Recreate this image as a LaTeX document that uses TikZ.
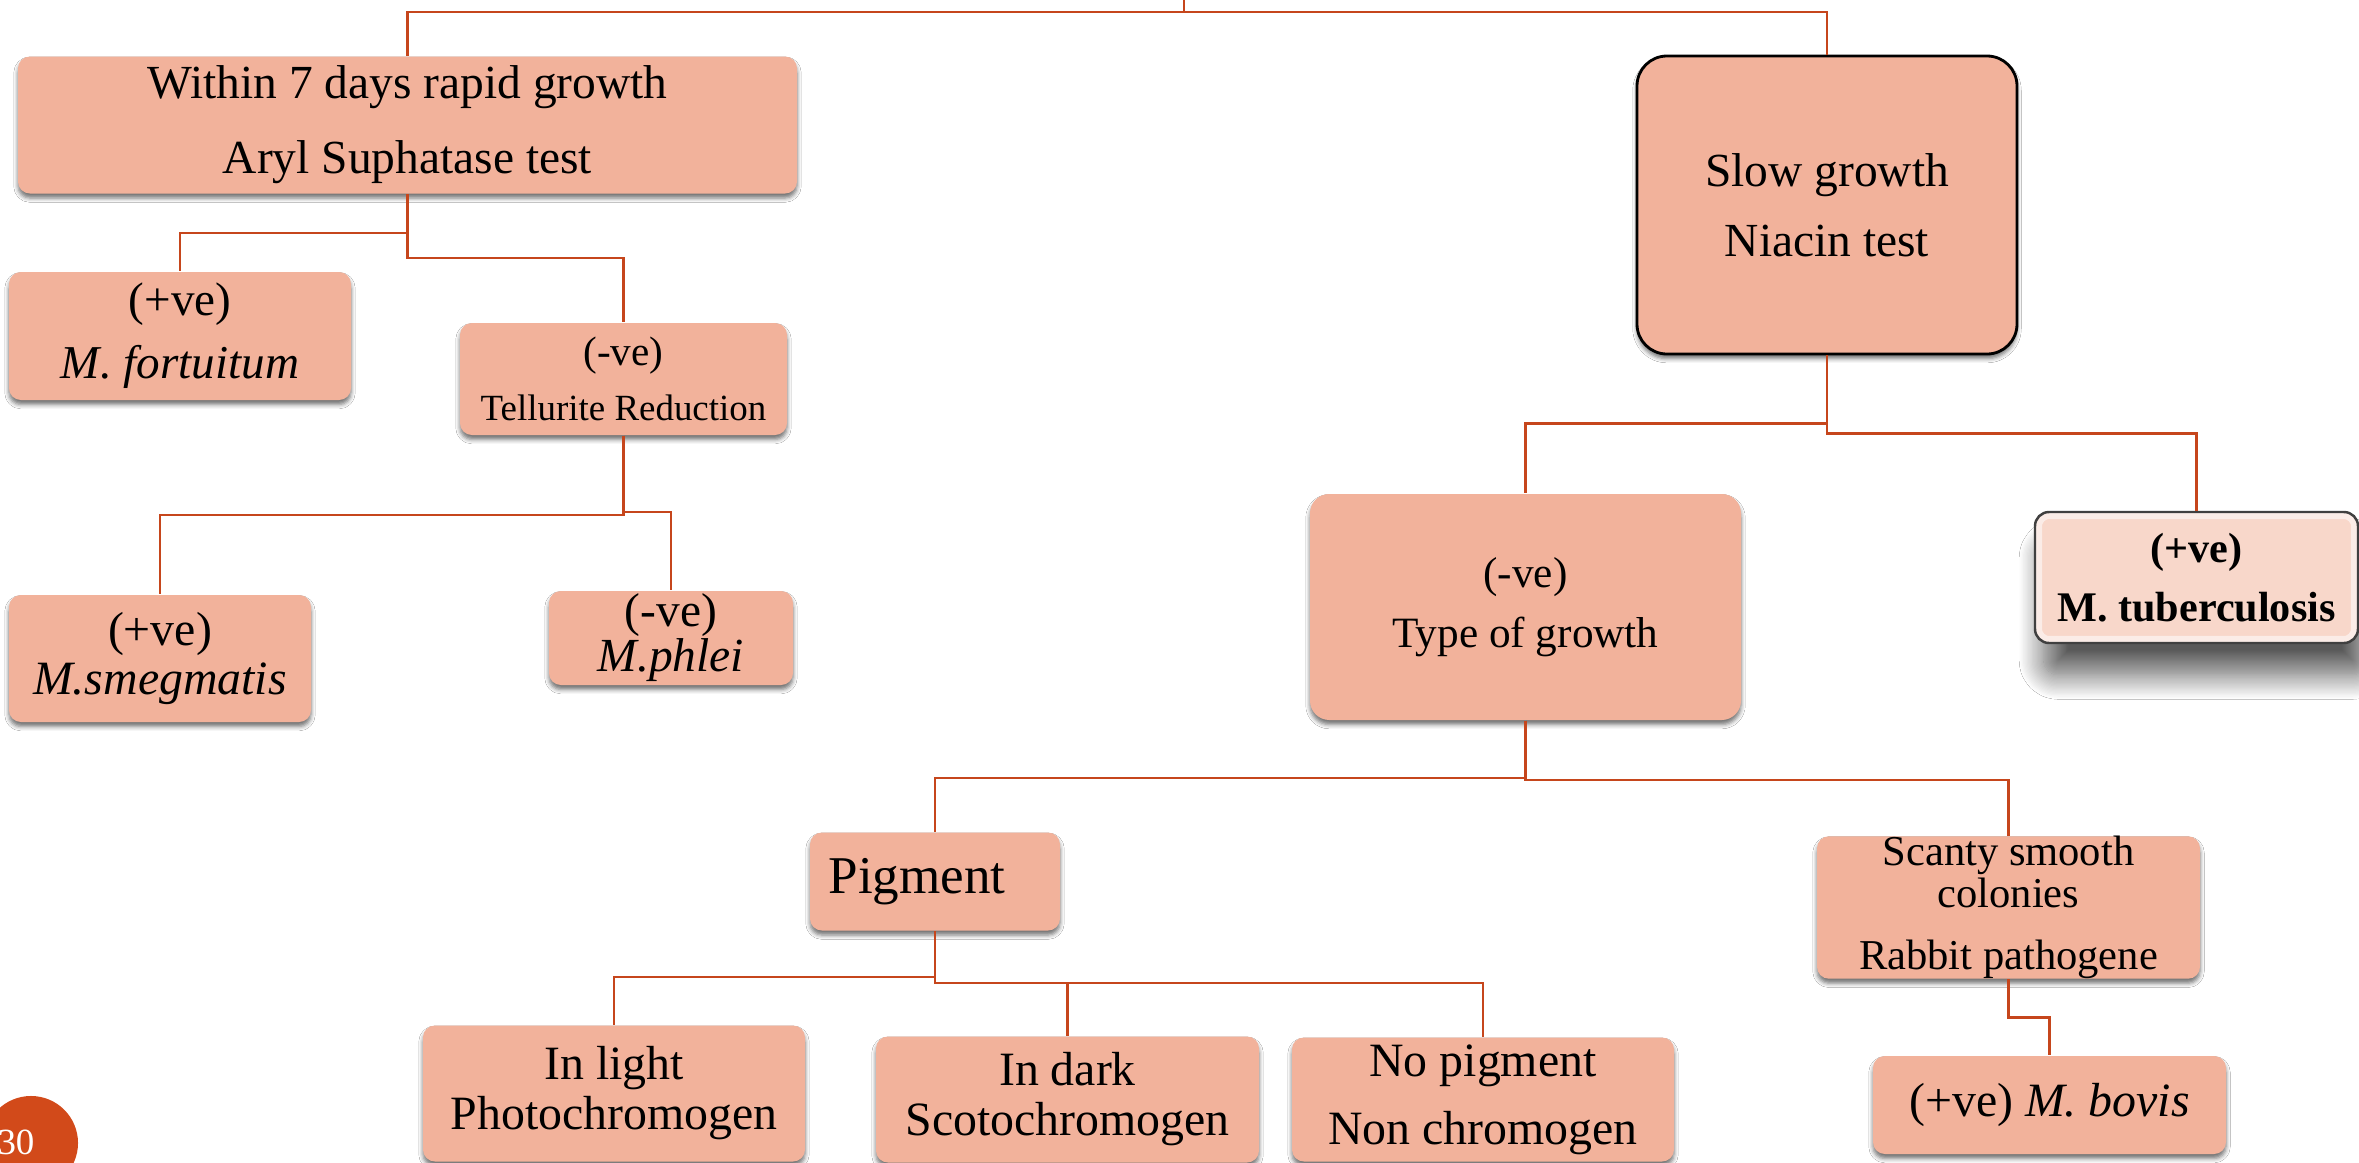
\documentclass[tikz,border=0pt]{standalone}
\usepackage{fontspec}
\setmainfont{Liberation Serif}
\usetikzlibrary{shadows,shadows.blur}
\definecolor{boxfill}{RGB}{242,178,155}
\definecolor{conn}{RGB}{198,70,28}
\definecolor{pgnum}{RGB}{210,74,26}
\definecolor{tbpink}{RGB}{248,215,202}
\newcommand{\fsz}[2]{\fontsize{#1}{#2}\selectfont}
\begin{document}
\begin{tikzpicture}[x=0.01cm,y=-0.01cm,
  sz/.style 2 args={minimum width=#1*0.01cm, minimum height=#2*0.01cm},
  box/.style={rectangle, rounded corners=3.4pt, fill=boxfill, inner sep=0pt, align=center, text=black,
    blur shadow={shadow xshift=0pt, shadow yshift=-1.3pt, shadow blur radius=1.2pt, shadow opacity=55}},
  tbbox/.style={rectangle, rounded corners=4pt, draw=black!75, line width=0.7pt, inner sep=0pt, align=center,
    fill=tbpink,
    path picture={\draw[white, opacity=0.55, line width=4pt, rounded corners=4pt] (path picture bounding box.south west) rectangle (path picture bounding box.north east);},
    blur shadow={shadow xshift=2.5pt, shadow yshift=-9pt, shadow blur radius=7pt, shadow blur steps=20, shadow opacity=65}},
  link/.style={draw=conn, line width=0.65pt}]
\clip (0,0) rectangle (2359,1163);
\fill[white] (0,0) rectangle (2359,1163);

% boxes
\node[box, sz={779}{137}, font=\fsz{13.5}{21.3}] (A) at (407.5,125) {Within 7 days rapid growth\\Aryl Suphatase test};
\node[box, sz={342}{128}, font=\fsz{13.4}{17.9}] (B) at (180,336) {(+ve)\\\textit{M. fortuitum}};
\node[box, sz={327}{112}, font=\fsz{11.7}{15.6}] (C) at (623.5,379) {(-ve)\\\fontsize{10.5}{15.6}\selectfont Tellurite Reduction};
\node[box, sz={302}{127}, font=\fsz{13.6}{13.7}] (D) at (160,658.5) {(+ve)\\\textit{M.smegmatis}};
\node[box, sz={244}{94}, font=\fsz{13.5}{12.8}] (E) at (671,638) {(-ve)\\\textit{M.phlei}};
\node[box, draw=black, line width=0.8pt, rounded corners=8.5pt, sz={380}{298}, font=\fsz{13.5}{19.9}] (F) at (1827,205) {Slow growth\\Niacin test};
\node[box, sz={431}{226}, rounded corners=5.5pt, font=\fsz{12.3}{17.1}] (G) at (1525.5,607) {(-ve)\\Type of growth};
\node[tbbox, sz={323}{131}, font=\fsz{12}{16.8}\bfseries] (H) at (2196.5,577.5) {(+ve)\\M. tuberculosis};
\node[box, sz={250}{98}, font=\fsz{15.1}{18}] (I) at (935,881.5) {Pigment\hspace*{0.36cm}};
\node[box, sz={383}{140}, font=\fsz{12.1}{11.9}] (J) at (2008.5,907.5) {Scanty smooth\\colonies\\[5.7pt]Rabbit pathogene};
\node[box, sz={353}{98}, font=\fsz{13.6}{16}] (K) at (2049.5,1105) {(+ve) \textit{M. bovis}};
\node[box, sz={382}{136}, font=\fsz{13.6}{14.2}] (L) at (614,1093.5) {In light\\Photochromogen};
\node[box, sz={383}{126}, font=\fsz{13.6}{14.2}] (M) at (1067.5,1099.5) {In dark\\Scotochromogen};
\node[box, sz={382}{124}, font=\fsz{13.6}{19.3}] (N) at (1483,1099.5) {No pigment\\Non chromogen};

% page number
\node[circle, fill=pgnum, minimum size=0.94cm, inner sep=0pt] (pg) at (31,1143) {};
\node[text=white, font=\fsz{10.5}{12}, inner sep=0pt] (pgt) at (16,1142) {30};

% connectors
\coordinate (root) at (1184,0);
\draw[link] (root) -- ++(0,12) -| (A.north);
\draw[link] (root) -- ++(0,12) -| (F.north);
\draw[link] (A.south) -- ++(0,39) -| (B.north);
\draw[link] (A.south) -- ++(0,64) -| (C.north);
\draw[link] (C.south) -- ++(0,79) -| (D.north);
\draw[link] (C.south) -- ++(0,76) -| (E.north);
\draw[link] (F.south) -- ++(0,68) -| (G.north);
\draw[link] (F.south) -- ++(0,78) -| (H.north);
\draw[link] (G.south) -- ++(0,57) -| (I.north);
\draw[link] (G.south) -- ++(0,59) -| (J.north);
\draw[link] (I.south) -- ++(0,46) -| (L.north);
\draw[link] (I.south) -- ++(0,52) -| (M.north);
\draw[link] (I.south) -- ++(0,52) -| (N.north);
\draw[link] (J.south) -- ++(0,38) -| (K.north);
\end{tikzpicture}
\end{document}
